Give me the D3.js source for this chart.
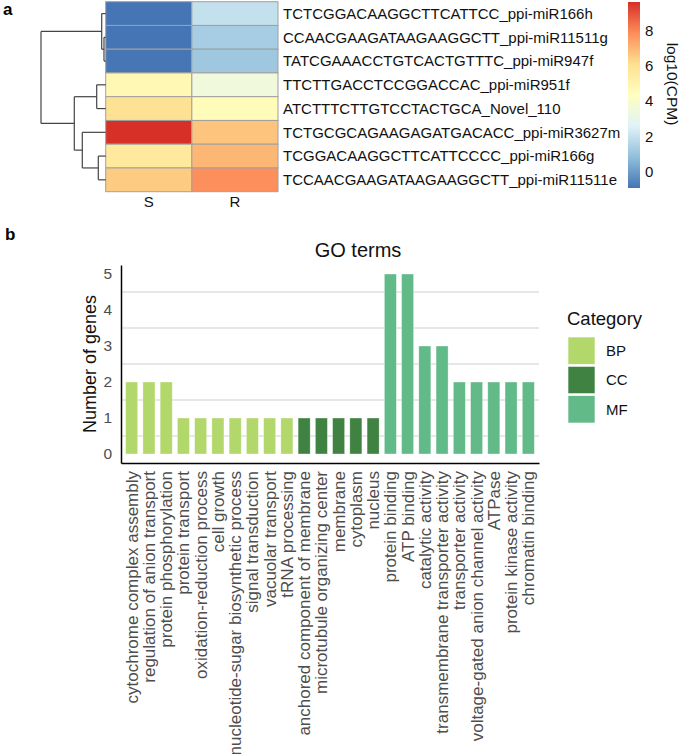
<!DOCTYPE html>
<html>
<head>
<meta charset="utf-8">
<script src="https://cdn.jsdelivr.net/npm/d3@7"></script>
<style>
  html, body { margin: 0; padding: 0; background: #fff; }
  svg { display: block; font-family: "Liberation Sans", Arial, sans-serif; }
</style>
</head>
<body>
<svg id="chart" width="685" height="754"></svg>
<script>
// ---------------- Panel a data ----------------
const rowLabels = [
  "TCTCGGACAAGGCTTCATTCC_ppi-miR166h",
  "CCAACGAAGATAAGAAGGCTT_ppi-miR11511g",
  "TATCGAAACCTGTCACTGTTTC_ppi-miR947f",
  "TTCTTGACCTCCGGACCAC_ppi-miR951f",
  "ATCTTTCTTGTCCTACTGCA_Novel_110",
  "TCTGCGCAGAAGAGATGACACC_ppi-miR3627m",
  "TCGGACAAGGCTTCATTCCCC_ppi-miR166g",
  "TCCAACGAAGATAAGAAGGCTT_ppi-miR11511e"
];
const sampleLabels = ["S", "R"];
const valuesS = [-0.9, -0.9, -0.88, 4.75, 6.0, 9.6, 5.6, 6.55];
const valuesR = [1.95, 1.32, 1.16, 3.5, 4.58, 6.7, 6.96, 7.8];
const colorStops = ["#4575B4", "#91BFDB", "#E0F3F8", "#FFFFBF", "#FEE090", "#FC8D59", "#D73027"];
const colorRange = [-0.9, 9.6];
const colorTicks = [0, 2, 4, 6, 8];
// row dendrogram: merge heights, leaves are row indices
const dendro = {h: 64.7, children: [
  {h: 4.0, children: [{leaf: 0}, {h: 1.7, children: [{leaf: 1}, {leaf: 2}]}]},
  {h: 31.4, children: [
    {h: 9.0, children: [{leaf: 3}, {leaf: 4}]},
    {h: 23.4, children: [{leaf: 5}, {h: 7.4, children: [{leaf: 6}, {leaf: 7}]}]}
  ]}
]};

// ---------------- Panel b data ----------------
const goTerms = [
  "cytochrome complex assembly", "regulation of anion transport", "protein phosphorylation",
  "protein transport", "oxidation-reduction process", "cell growth",
  "nucleotide-sugar biosynthetic process", "signal transduction", "vacuolar transport",
  "tRNA processing",
  "anchored component of membrane", "microtubule organizing center", "membrane",
  "cytoplasm", "nucleus",
  "protein binding", "ATP binding", "catalytic activity", "transmembrane transporter activity",
  "transporter activity", "voltage-gated anion channel activity", "ATPase",
  "protein kinase activity", "chromatin binding"
];
const goCounts = [2, 2, 2, 1, 1, 1, 1, 1, 1, 1, 1, 1, 1, 1, 1, 5, 5, 3, 3, 2, 2, 2, 2, 2];
const goCategory = ["BP","BP","BP","BP","BP","BP","BP","BP","BP","BP",
  "CC","CC","CC","CC","CC",
  "MF","MF","MF","MF","MF","MF","MF","MF","MF"];
const categories = ["BP", "CC", "MF"];
const categoryColors = ["#b2d76b", "#3f8241", "#63ba89"];
const yTicks = [0, 1, 2, 3, 4, 5];
const gridValues = [0.5, 1.5, 2.5, 3.5, 4.5];

const svg = d3.select("#chart");

// ================= Panel a =================
svg.append("text").attr("x", 3).attr("y", 15).attr("font-weight", "bold")
  .attr("font-size", 17).text("a");

const hx = d3.scaleBand().domain(sampleLabels).range([105.7, 278]);
const hy = d3.scaleBand().domain(d3.range(rowLabels.length)).range([1.7, 191.7]);
const stopDomain = d3.range(colorStops.length).map(i =>
  colorRange[0] + i * (colorRange[1] - colorRange[0]) / (colorStops.length - 1));
const color = d3.scaleLinear().domain(stopDomain).range(colorStops).interpolate(d3.interpolateRgb);

const cells = [];
rowLabels.forEach((r, i) => {
  cells.push({row: i, col: "S", v: valuesS[i]});
  cells.push({row: i, col: "R", v: valuesR[i]});
});
svg.append("g").selectAll("rect").data(cells).join("rect")
  .attr("x", d => hx(d.col)).attr("y", d => hy(d.row))
  .attr("width", hx.bandwidth()).attr("height", hy.bandwidth())
  .attr("fill", d => color(d.v))
  .attr("stroke", "#a0a0a0").attr("stroke-width", 1);

svg.append("g").selectAll("text").data(rowLabels).join("text")
  .attr("x", 283).attr("y", (d, i) => hy(i) + hy.bandwidth() / 2)
  .attr("dy", "0.35em").attr("font-size", 15).attr("fill", "#111")
  .text(d => d);

svg.append("g").selectAll("text").data(sampleLabels).join("text")
  .attr("x", d => hx(d) + hx.bandwidth() / 2).attr("y", 202)
  .attr("dy", "0.35em").attr("text-anchor", "middle").attr("font-size", 15)
  .attr("fill", "#111").text(d => d);

// dendrogram
const root = d3.hierarchy(dendro);
const dx = d3.scaleLinear().domain([0, root.data.h]).range([105.7, 41]);
root.eachAfter(n => {
  if (n.data.leaf !== undefined) {
    n.py = hy(n.data.leaf) + hy.bandwidth() / 2;
    n.ph = 0;
  } else {
    n.py = d3.mean(n.children, c => c.py);
    n.ph = n.data.h;
  }
});
const dendroG = svg.append("g").attr("fill", "none").attr("stroke", "#444").attr("stroke-width", 1.2);
root.each(n => {
  if (!n.children) return;
  const ys = n.children.map(c => c.py);
  dendroG.append("path").attr("d",
    `M${dx(n.ph)},${d3.min(ys)}V${d3.max(ys)}`);
  n.children.forEach(c => {
    dendroG.append("path").attr("d", `M${dx(n.ph)},${c.py}H${dx(c.ph)}`);
  });
});

// color bar
const cbY = d3.scaleLinear().domain(colorRange).range([188, 2]);
const defs = svg.append("defs");
const grad = defs.append("linearGradient").attr("id", "cbgrad")
  .attr("x1", 0).attr("y1", 1).attr("x2", 0).attr("y2", 0);
grad.selectAll("stop").data(colorStops).join("stop")
  .attr("offset", (d, i) => i / (colorStops.length - 1)).attr("stop-color", d => d);
svg.append("rect").attr("x", 628).attr("y", cbY(colorRange[1]))
  .attr("width", 12).attr("height", cbY(colorRange[0]) - cbY(colorRange[1]))
  .attr("fill", "url(#cbgrad)");
svg.append("g").selectAll("text").data(colorTicks).join("text")
  .attr("x", 645).attr("y", d => cbY(d)).attr("dy", "0.35em")
  .attr("font-size", 15).attr("fill", "#111").text(d => d);
svg.append("text").attr("transform", "translate(667,84) rotate(90)")
  .attr("text-anchor", "middle").attr("font-size", 15.5).attr("fill", "#111")
  .text("log10(CPM)");

// ================= Panel b =================
svg.append("text").attr("x", 5).attr("y", 240).attr("font-weight", "bold")
  .attr("font-size", 17).text("b");

const x = d3.scaleBand().domain(goTerms).range([121, 539])
  .paddingInner(0.3).paddingOuter(0.27);
const y = d3.scaleLinear().domain([-0.25, 5.25]).range([463, 265]);
const catColor = d3.scaleOrdinal().domain(categories).range(categoryColors);

svg.append("g").selectAll("line").data(gridValues).join("line")
  .attr("x1", 121).attr("x2", 539).attr("y1", d => y(d)).attr("y2", d => y(d))
  .attr("stroke", "#cfcfcf").attr("stroke-width", 1);

svg.append("g").selectAll("rect").data(goTerms).join("rect")
  .attr("x", d => x(d)).attr("width", x.bandwidth())
  .attr("y", (d, i) => y(goCounts[i])).attr("height", (d, i) => y(0) - y(goCounts[i]))
  .attr("fill", (d, i) => catColor(goCategory[i]))
  .attr("stroke", "#ffffff").attr("stroke-width", 0.6).attr("stroke-opacity", 0.6);

const yAxis = svg.append("g").attr("transform", "translate(121,0)")
  .call(d3.axisLeft(y).tickValues(yTicks).tickSize(0).tickPadding(9).tickFormat(d3.format("d")));
yAxis.select(".domain").attr("stroke", "#000").attr("stroke-width", 1.5);
yAxis.selectAll("text").attr("font-size", 15.5).attr("fill", "#4d4d4d")
  .attr("font-family", "Liberation Sans, Arial, sans-serif");

const xAxis = svg.append("g").attr("transform", "translate(0,463)")
  .call(d3.axisBottom(x).tickSize(0).tickPadding(0).tickSizeOuter(0));
xAxis.select(".domain").attr("stroke", "#000").attr("stroke-width", 1.5);
xAxis.selectAll("text")
  .attr("font-size", 17).attr("fill", "#4d4d4d")
  .attr("font-family", "Liberation Sans, Arial, sans-serif")
  .attr("text-anchor", "end")
  .attr("transform", "rotate(-90)")
  .attr("x", -8).attr("y", 0).attr("dy", "0.35em");

svg.append("text").attr("transform", "translate(96,364) rotate(-90)")
  .attr("text-anchor", "middle").attr("font-size", 18).attr("fill", "#111")
  .text("Number of genes");

svg.append("text").attr("x", 358).attr("y", 257).attr("text-anchor", "middle")
  .attr("font-size", 20).attr("fill", "#111").text("GO terms");

// legend
const lg = svg.append("g");
lg.append("text").attr("x", 567).attr("y", 325).attr("font-size", 18.5)
  .attr("fill", "#111").text("Category");
const keyY = d3.scaleBand().domain(categories).range([337, 423]).paddingInner(0.07);
lg.selectAll("rect").data(categories).join("rect")
  .attr("x", 568).attr("y", d => keyY(d)).attr("width", 27).attr("height", keyY.bandwidth())
  .attr("fill", d => catColor(d)).attr("stroke", "#fff").attr("stroke-width", 0.6);
lg.selectAll("text.k").data(categories).join("text").attr("class", "k")
  .attr("x", 606).attr("y", d => keyY(d) + keyY.bandwidth() / 2).attr("dy", "0.35em")
  .attr("font-size", 15).attr("fill", "#111").text(d => d);
</script>
</body>
</html>
